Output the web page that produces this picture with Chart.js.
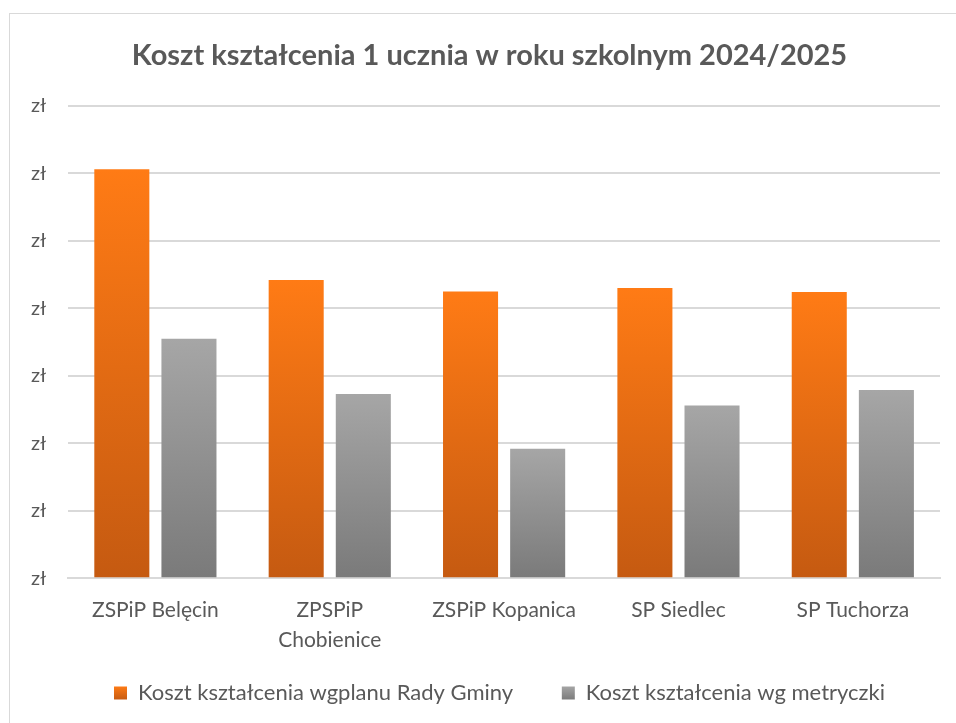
<!DOCTYPE html>
<html>
<head>
<meta charset="utf-8">
<script src="https://cdn.jsdelivr.net/npm/chart.js@4"></script>
<style>
  body { margin: 0; background: #fff; }
  #frame { position: absolute; left: 9px; top: 13px; width: 960px; height: 720px; border: 1px solid #d9d9d9; }
  #wrap { position: absolute; left: 0; top: 0; width: 956px; height: 723px; }
</style>
</head>
<body>
<div id="frame"></div>
<div id="wrap"><canvas id="costChart"></canvas></div>
<script>
const schools = ['ZSPiP Belęcin', ['ZPSPiP', 'Chobienice'], 'ZSPiP Kopanica', 'SP Siedlec', 'SP Tuchorza'];
const planCost = [30300, 22100, 21250, 21500, 21200];
const metricCost = [17750, 13650, 9600, 12800, 13950];
const seriesNames = ['Koszt kształcenia wgplanu Rady Gminy', 'Koszt kształcenia wg metryczki'];

// gradient per bar, light on top, dark at the bottom
function barFill(top, bottom) {
  return function (context) {
    const chart = context.chart;
    const y = chart.scales.y;
    if (!chart.chartArea || !y || context.raw === undefined) return bottom;
    const y0 = y.getPixelForValue(context.raw);
    const y1 = y.getPixelForValue(0);
    const g = chart.ctx.createLinearGradient(0, y0, 0, y1);
    g.addColorStop(0, top);
    g.addColorStop(1, bottom);
    return g;
  };
}

function legendFill(ctx, top, bottom) {
  const g = ctx.createLinearGradient(0, 686, 0, 700);
  g.addColorStop(0, top);
  g.addColorStop(1, bottom);
  return g;
}

// title and legend in the original sit a bit right of the canvas centre
const nudgeBoxes = {
  id: 'nudgeBoxes',
  afterLayout(chart) {
    if (chart.titleBlock) { chart.titleBlock.left += 15; chart.titleBlock.right += 15; }
    if (chart.legend) { chart.legend.left += 25; chart.legend.right += 25; }
  }
};

const ctx = document.getElementById('costChart').getContext('2d');
new Chart(ctx, {
  type: 'bar',
  data: {
    labels: schools,
    datasets: [
      {
        label: seriesNames[0],
        data: planCost,
        backgroundColor: barFill('#ff7b15', '#c55a11'),
        categoryPercentage: 0.77,
        barPercentage: 0.82
      },
      {
        label: seriesNames[1],
        data: metricCost,
        backgroundColor: barFill('#a6a6a6', '#7a7a7a'),
        categoryPercentage: 0.77,
        barPercentage: 0.82
      }
    ]
  },
  plugins: [nudgeBoxes],
  options: {
    responsive: true,
    maintainAspectRatio: false,
    animation: false,
    layout: { padding: { left: 9, right: 16, top: 0, bottom: 9 } },
    plugins: {
      title: {
        display: true,
        text: 'Koszt kształcenia 1 ucznia w roku szkolnym 2024/2025',
        color: '#595959',
        font: { family: 'Lato', size: 29, weight: 'bold' },
        padding: { top: 38, bottom: 33 }
      },
      legend: {
        position: 'bottom',
        labels: {
          color: '#595959',
          font: { family: 'Lato', size: 22 },
          boxWidth: 13,
          boxHeight: 13,
          padding: 10,
          generateLabels: function (chart) {
            const c = chart.ctx;
            // trailing spaces widen the gap between entries without adding vertical padding
            return [
              { text: seriesNames[0] + '\u2003\u2003 ', fillStyle: legendFill(c, '#ff7b15', '#c55a11'), strokeStyle: 'transparent', lineWidth: 0, datasetIndex: 0, fontColor: '#595959' },
              { text: seriesNames[1], fillStyle: legendFill(c, '#a6a6a6', '#7a7a7a'), strokeStyle: 'transparent', lineWidth: 0, datasetIndex: 1, fontColor: '#595959' }
            ];
          }
        }
      },
      tooltip: { enabled: false }
    },
    scales: {
      x: {
        grid: { display: false, drawTicks: false },
        border: { color: '#d9d9d9', width: 2 },
        ticks: { color: '#595959', font: { family: 'Lato', size: 21, lineHeight: 1.42 }, padding: 17, maxRotation: 0, autoSkip: false }
      },
      y: {
        min: 0,
        max: 35000,
        grid: { color: '#d9d9d9', lineWidth: 2, drawTicks: false },
        border: { display: false },
        ticks: {
          stepSize: 5000,
          color: '#595959',
          font: { family: 'Lato', size: 20 },
          padding: 22,
          callback: function () { return 'zł'; }
        }
      }
    }
  }
});
</script>
</body>
</html>
